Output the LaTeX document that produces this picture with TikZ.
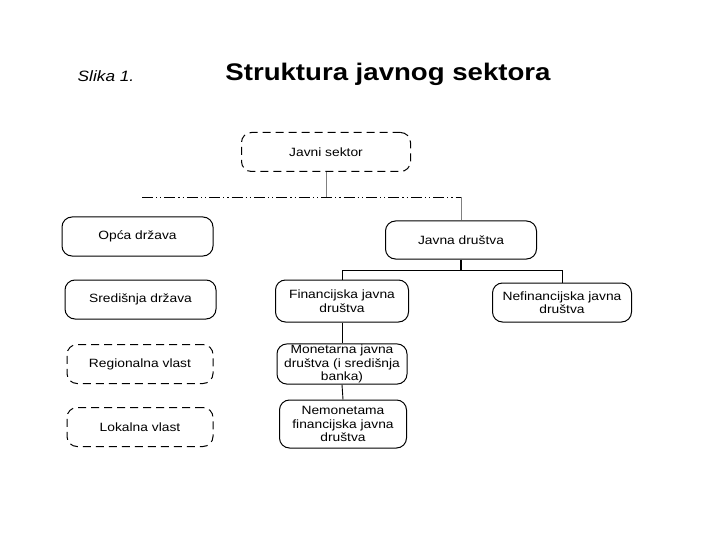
\documentclass[tikz,border=0pt]{standalone}
\usepackage{fontspec}
\setmainfont{Liberation Sans}[FakeStretch=1.15]
\usetikzlibrary{positioning}

\begin{document}
\begin{tikzpicture}[
            x=1pt, y=-1pt,
            box/.style={
                draw,
                rounded corners=10pt,
                line width=1pt,
                align=center,
                inner sep=1pt,
                font=\fontsize{12}{13.5}\selectfont
            },
            dashbox/.style={
                box,
                dash pattern=on 8pt off 5pt
            },
            link/.style={
                draw,
                line width=0.9pt
            },
            graylink/.style={
                draw=gray,
                line width=0.8pt
            }
        ]
            \useasboundingbox (0,0) rectangle (720,540);

            \node at (106,76) {\fontsize{15}{18}\selectfont\itshape Slika 1.};
            \node at (388,74) {\fontsize{24}{28}\selectfont\bfseries Struktura javnog sektora};

            \node[dashbox, minimum width=169pt, minimum height=39pt] (javni) at (326,152) {Javni sektor};

            % lijeva strana
            \foreach \id/\name/\x/\y/\w/\s in {
                opca/Opća država/137.5/236.5/151/box,
                sred/Središnja država/140.5/299.5/151/box,
                reg/Regionalna vlast/140/364/146/dashbox,
                lok/Lokalna vlast/140/427/146/dashbox%
            } {
                \node[\s, minimum width=\w pt, minimum height=39pt] (\id) at (\x,\y) {\name};
            }

            % desna strana
            \node[box, minimum width=151pt, minimum height=38pt] (javna) at (461,240) {Javna društva};
            \node[box, minimum width=133pt, minimum height=42pt] (fin) at (342,301) {Financijska javna\\društva};
            \node[box, minimum width=139pt, minimum height=39pt] (nefin) at (562,302.5) {Nefinancijska javna\\društva};
            \node[box, minimum width=130pt, minimum height=38pt] (mon) at (342,364) {Monetarna javna\\društva (i središnja\\banka)};
            \node[box, minimum width=127pt, minimum height=48pt] (nemon) at (343,424) {Nemonetama\\financijska javna\\društva};

            \coordinate (barL) at (142,197);
            \coordinate (barR) at (461,197);
            \coordinate (split) at (0,270);

            \draw[graylink] (javni.south) -- (javni.south |- barL);
            \draw[line width=0.9pt, dash pattern=on 11pt off 3pt on 1.2pt off 3pt on 1.2pt off 3pt] (barL) -- (barR);
            \draw[graylink] (barR) -- (javna.north);

            \draw[line width=1.6pt] (javna.south) -- (javna.south |- split);
            \draw[link] (fin.north) -- (fin.north |- split) -- (nefin.north |- split) -- (nefin.north);
            \draw[link] (fin.south) -- (mon.north);
            \draw[link] (mon.south) -- (nemon.north);
        \end{tikzpicture}
\end{document}
